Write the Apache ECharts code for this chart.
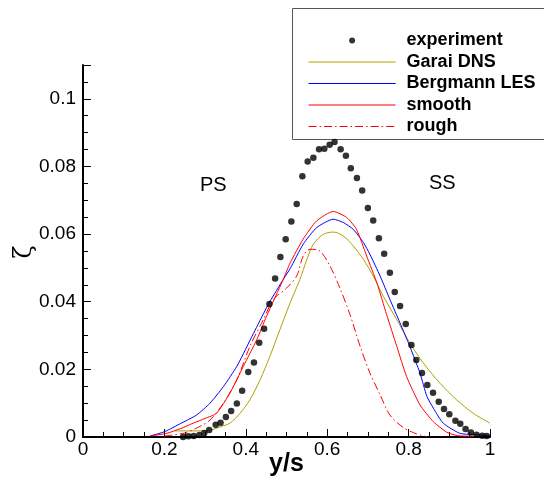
<!DOCTYPE html>
<html>
<head>
<meta charset="utf-8">
<script src="https://cdn.jsdelivr.net/npm/echarts@6/dist/echarts.min.js"></script>
<style>html,body{margin:0;padding:0;background:#fff}#c{width:544px;height:481px}</style>
</head>
<body>
<div id="c"></div>
<script>
var seriesNames = ['experiment', 'Garai DNS', 'Bergmann LES', 'smooth', 'rough'];
var xTicks = [0, 0.2, 0.4, 0.6, 0.8, 1];
var yTicks = [0, 0.02, 0.04, 0.06, 0.08, 0.1];

var experiment = [
  [0.246,0.0000],[0.259,0.0002],[0.272,0.0003],[0.286,0.0006],[0.298,0.0012],[0.310,0.0021],
  [0.326,0.0036],[0.338,0.0042],[0.351,0.0059],[0.364,0.0077],[0.378,0.0099],[0.391,0.0137],
  [0.406,0.0192],[0.420,0.0220],[0.433,0.0279],[0.445,0.0320],[0.458,0.0393],[0.472,0.0469],
  [0.485,0.0532],[0.498,0.0585],[0.512,0.0637],[0.525,0.0689],[0.539,0.0771],[0.552,0.0815],
  [0.566,0.0826],[0.580,0.0851],[0.593,0.0852],[0.606,0.0864],[0.618,0.0872],[0.633,0.0851],
  [0.646,0.0832],[0.658,0.0795],[0.673,0.0766],[0.686,0.0729],[0.700,0.0677],[0.713,0.0640],
  [0.727,0.0588],[0.740,0.0542],[0.754,0.0486],[0.766,0.0429],[0.779,0.0387],[0.793,0.0334],
  [0.807,0.0272],[0.819,0.0228],[0.833,0.0189],[0.846,0.0154],[0.860,0.0131],[0.874,0.0104],
  [0.887,0.0083],[0.900,0.0067],[0.915,0.0048],[0.927,0.0039],[0.940,0.0024],[0.953,0.0013],
  [0.967,0.0007],[0.981,0.0004],[0.992,0.0003]
];

var garai = [
  [0.226,0.0018],[0.263,0.0018],[0.307,0.0019],[0.337,0.0030],[0.361,0.0041],[0.386,0.0070],
  [0.410,0.0110],[0.435,0.0169],[0.459,0.0238],[0.484,0.0318],[0.509,0.0397],[0.533,0.0466],
  [0.550,0.0525],[0.566,0.0570],[0.590,0.0599],[0.615,0.0606],[0.640,0.0594],[0.664,0.0565],
  [0.689,0.0525],[0.713,0.0476],[0.738,0.0416],[0.771,0.0347],[0.803,0.0278],[0.836,0.0219],
  [0.877,0.0159],[0.918,0.0110],[0.959,0.0070],[1.000,0.0041]
];

var bergmann = [
  [0.165,0.0003],[0.201,0.0016],[0.240,0.0040],[0.279,0.0065],[0.312,0.0100],[0.345,0.0149],
  [0.378,0.0209],[0.410,0.0285],[0.435,0.0345],[0.459,0.0400],[0.492,0.0466],[0.509,0.0498],
  [0.541,0.0570],[0.574,0.0619],[0.615,0.0644],[0.640,0.0634],[0.664,0.0614],[0.689,0.0575],
  [0.705,0.0540],[0.730,0.0476],[0.754,0.0407],[0.779,0.0337],[0.803,0.0268],[0.828,0.0189],
  [0.845,0.0120],[0.861,0.0085],[0.885,0.0041],[0.926,0.0011],[0.975,0.0006],[1.000,0.0004]
];

var smooth = [
  [0.165,0.0003],[0.206,0.0011],[0.240,0.0025],[0.271,0.0041],[0.300,0.0055],[0.328,0.0070],
  [0.361,0.0130],[0.394,0.0209],[0.427,0.0288],[0.451,0.0357],[0.492,0.0466],[0.509,0.0515],
  [0.541,0.0585],[0.574,0.0639],[0.615,0.0667],[0.648,0.0649],[0.672,0.0614],[0.697,0.0535],
  [0.722,0.0456],[0.746,0.0362],[0.771,0.0268],[0.795,0.0179],[0.828,0.0095],[0.861,0.0045],
  [0.894,0.0014],[0.920,0.0004],[0.960,0.0002]
];

var rough = [
  [0.200,0.0003],[0.250,0.0012],[0.285,0.0030],[0.312,0.0050],[0.345,0.0100],[0.378,0.0169],
  [0.410,0.0268],[0.443,0.0347],[0.468,0.0407],[0.500,0.0440],[0.525,0.0476],[0.541,0.0535],
  [0.558,0.0555],[0.582,0.0550],[0.607,0.0505],[0.631,0.0441],[0.656,0.0362],[0.681,0.0268],
  [0.705,0.0189],[0.730,0.0125],[0.754,0.0065],[0.787,0.0028],[0.820,0.0009],[0.845,0.0001]
];

var chart = echarts.init(document.getElementById('c'), null, {renderer: 'canvas'});
var FONT = 'Liberation Sans, Arial, sans-serif';
var olive = '#aea200';
var colors = [ '#000', olive, '#0000ff', '#ff0000', '#ff0000' ];
var barIcon = 'path://M0,0L100,0L100,1.2L0,1.2Z';

function fmt(v, ticks) {
  for (var i = 0; i < ticks.length; i++) {
    if (Math.abs(v - ticks[i]) < 1e-9) return String(ticks[i]);
  }
  return '';
}

function legendLine(i) {
  return {name: seriesNames[i], icon: barIcon, itemStyle: {color: colors[i], borderWidth: 0}};
}

chart.setOption({
  animation: false,
  backgroundColor: '#fff',
  grid: {left: 83, right: 54, top: 65, bottom: 44, containLabel: false, outerBoundsMode: 'none'},
  xAxis: {
    type: 'value', min: 0, max: 1, interval: 0.2,
    name: 'y/s', nameLocation: 'middle', nameGap: 15, nameMoveOverlap: false,
    nameTextStyle: {fontFamily: FONT, fontSize: 25, fontWeight: 'bold', color: '#000'},
    axisLine: {lineStyle: {color: '#000', width: 2}},
    axisTick: {inside: true, length: 8, lineStyle: {color: '#000', width: 1}},
    minorTick: {show: true, splitNumber: 4, length: 5, lineStyle: {color: '#000', width: 1}},
    axisLabel: {fontFamily: FONT, fontSize: 19, color: '#000', margin: 3,
      formatter: function (v) { return fmt(v, xTicks); }},
    splitLine: {show: false}
  },
  yAxis: {
    type: 'value', min: 0, max: 0.11, interval: 0.02,
    axisLine: {lineStyle: {color: '#000', width: 2}},
    axisTick: {inside: true, length: 8, lineStyle: {color: '#000', width: 1}},
    minorTick: {show: true, splitNumber: 4, length: 5, lineStyle: {color: '#000', width: 1}},
    axisLabel: {fontFamily: FONT, fontSize: 19, color: '#000', margin: 7,
      formatter: function (v) { return fmt(v, yTicks); }},
    splitLine: {show: false}
  },
  legend: {
    orient: 'vertical', left: 303, top: 25,
    itemWidth: 87, itemHeight: 6, itemGap: 0.5, symbolKeepAspect: true,
    textStyle: {fontFamily: FONT, fontSize: 18, fontWeight: 'bold', color: '#000', lineHeight: 21, padding: [0, 0, 0, 6]},
    data: [
      {name: seriesNames[0], icon: 'circle'},
      legendLine(1), legendLine(2), legendLine(3),
      {name: seriesNames[4], itemStyle: {opacity: 0},
        lineStyle: {color: colors[4], width: 1.2, type: [8, 3, 1.5, 3]}}
    ]
  },
  graphic: [
    {type: 'rect', shape: {x: 292.5, y: 8.5, width: 260, height: 131}, style: {fill: 'none', stroke: '#555', lineWidth: 1}, z: 0},
    {type: 'text', left: 200, top: 175, style: {text: 'PS', font: '20px ' + FONT, fill: '#000'}},
    {type: 'text', left: 429, top: 173, style: {text: 'SS', font: '20px ' + FONT, fill: '#000'}},
    {type: 'text', x: 25, y: 252, rotation: Math.PI / 2,
      style: {text: 'ζ', font: '24px DejaVu Serif, serif', fill: '#000', align: 'center', verticalAlign: 'middle'}}
  ],
  series: [
    {name: seriesNames[0], type: 'scatter', data: experiment, symbol: 'circle', symbolSize: 6.5,
      itemStyle: {color: colors[0]}, z: 5},
    {name: seriesNames[1], type: 'line', data: garai, symbol: 'none', smooth: 0.3,
      lineStyle: {color: colors[1], width: 1}, itemStyle: {color: colors[1]}},
    {name: seriesNames[2], type: 'line', data: bergmann, symbol: 'none', smooth: 0.2,
      lineStyle: {color: colors[2], width: 1}, itemStyle: {color: colors[2]}},
    {name: seriesNames[3], type: 'line', data: smooth, symbol: 'none', smooth: 0.2,
      lineStyle: {color: colors[3], width: 1}, itemStyle: {color: colors[3]}},
    {name: seriesNames[4], type: 'line', data: rough, symbol: 'none', smooth: 0.3,
      lineStyle: {color: colors[4], width: 1, type: [8, 3, 1.5, 3]}, itemStyle: {color: colors[4]}}
  ]
});
</script>
</body>
</html>
